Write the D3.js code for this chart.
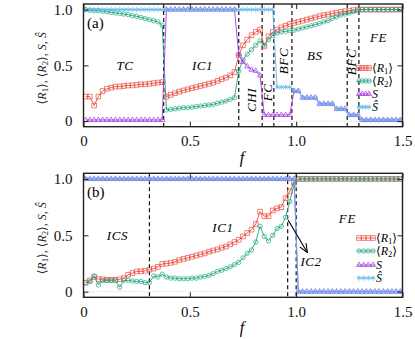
<!DOCTYPE html>
<html>
<head>
<meta charset="utf-8">
<script src="https://cdn.jsdelivr.net/npm/d3@7"></script>
<style>
body { margin: 0; background: #fff; }
text { font-family: "Liberation Serif", "DejaVu Serif", serif; }
</style>
</head>
<body>
<div id="chart"></div>
<script>
// f values (shared by both panels)
const fVals = [0.01,0.03,0.05,0.07,0.09,0.11,0.13,0.15,0.17,0.19,0.21,0.23,0.25,0.27,0.29,0.31,0.33,0.35,0.37,0.39,
  0.41,0.43,0.45,0.47,0.49,0.51,0.53,0.55,0.57,0.59,0.61,0.63,0.65,0.67,0.69,0.71,0.73,0.75,0.77,0.79,
  0.81,0.83,0.85,0.87,0.89,0.91,0.93,0.95,0.97,0.99,1.01,1.03,1.05,1.07,1.09,1.11,1.13,1.15,1.17,1.19,
  1.21,1.23,1.25,1.27,1.29,1.31,1.33,1.35,1.37,1.39,1.41,1.43,1.45,1.47,1.49];

// panel (a)
const r1A = [0.22,0.22,0.14,0.22,0.27,0.29,0.30,0.31,0.31,0.315,0.32,0.32,0.325,0.33,0.33,0.335,0.34,0.345,0.35,
  0.22,0.235,0.25,0.265,0.275,0.285,0.295,0.305,0.315,0.325,0.335,0.345,0.36,0.375,0.39,0.41,0.44,
  0.59,0.68,0.73,0.77,0.80,0.82,
  0.67,0.76,0.80,
  0.82,0.84,0.855,0.87,
  0.88,0.89,0.90,0.91,0.92,0.93,0.94,0.95,0.955,0.965,0.97,0.98,0.985,0.99,0.995,1.0,
  1.0,1.0,1.0,1.0,1.0,1.0,1.0,1.0,1.0,1.0];
const r2A = [1.0,0.995,0.99,0.99,0.985,0.98,0.975,0.97,0.965,0.96,0.955,0.945,0.94,0.93,0.92,0.91,0.90,0.89,0.86,
  0.10,0.105,0.11,0.115,0.12,0.12,0.125,0.13,0.135,0.14,0.145,0.15,0.16,0.17,0.18,0.195,0.21,
  0.45,0.55,0.60,0.64,0.68,0.72,
  0.68,0.73,0.77,
  0.79,0.80,0.805,0.81,
  0.815,0.825,0.835,0.845,0.855,0.865,0.875,0.89,0.90,0.92,0.935,0.95,0.96,0.97,0.98,0.99,
  1.0,1.0,1.0,1.0,1.0,1.0,1.0,1.0,1.0,1.0];
const sA = [0.01,0.01,0.01,0.01,0.01,0.01,0.01,0.01,0.01,0.01,0.01,0.01,0.01,0.01,0.01,0.01,0.01,0.01,0.01,
  1,1,1,1,1,1,1,1,1,1,1,1,1,1,1,1,1,
  0.6,0.53,0.49,0.46,0.45,0.41,
  0.055,0.055,0.055,0.055,0.055,0.055,0.055,
  0.27,0.27,0.21,0.21,0.21,0.21,0.155,0.155,0.155,0.155,0.11,0.11,0.11,0.055,0.055,0.055,
  0.01,0.01,0.01,0.01,0.01,0.01,0.01,0.01,0.01,0.01];
const shA = [1,1,1,1,1,1,1,1,1,1,1,1,1,1,1,1,1,1,1,1,1,1,1,1,1,1,1,1,1,1,
  1,1,1,1,1,1,1,1,1,1,1,1,1,1,1,
  0.305,0.305,0.305,0.305,
  0.27,0.27,0.21,0.21,0.21,0.21,0.155,0.155,0.155,0.155,0.11,0.11,0.11,0.055,0.055,0.055,
  0.01,0.01,0.01,0.01,0.01,0.01,0.01,0.01,0.01,0.01];
const dashesA = [0.377, 0.73, 0.84, 0.895, 0.98, 1.24, 1.295];

// panel (b)
const r1B = [0.08,0.10,0.13,0.11,0.11,0.105,0.105,0.105,0.11,0.12,0.15,0.165,0.18,0.18,0.185,0.195,0.205,0.22,0.245,0.25,
  0.255,0.265,0.28,0.29,0.30,0.31,0.32,0.33,0.34,0.355,0.365,0.375,0.39,0.40,0.42,0.44,0.46,0.49,0.52,0.55,
  0.60,0.71,0.67,0.67,0.72,0.74,0.75,0.83,0.89,0.97,
  1,1,1,1,1,1,1,1,1,1,1,1,1,1,1,1,1,1,1,1,1,1,1,1,1];
const r2B = [0.08,0.09,0.14,0.06,0.10,0.10,0.10,0.10,0.04,0.10,0.10,0.095,0.09,0.09,0.08,0.08,0.14,0.13,0.155,0.13,
  0.12,0.12,0.115,0.115,0.115,0.12,0.12,0.13,0.135,0.145,0.16,0.18,0.19,0.205,0.22,0.24,0.26,0.30,0.34,0.37,
  0.44,0.58,0.49,0.45,0.50,0.56,0.58,0.66,0.80,0.95,
  1,1,1,1,1,1,1,1,1,1,1,1,1,1,1,1,1,1,1,1,1,1,1,1,1];
const sB = [1,1,1,1,1,1,1,1,1,1,1,1,1,1,1,1,1,1,1,1,1,1,1,1,1,1,1,1,1,1,1,1,1,1,1,1,1,1,1,1,1,1,1,1,1,1,1,1,1,1,
  0,0,0,0,0,0,0,0,0,0,0,0,0,0,0,0,0,0,0,0,0,0,0,0,0];
const shB = [1,1,1,1,1,1,1,1,1,1,1,1,1,1,1,1,1,1,1,1,1,1,1,1,1,1,1,1,1,1,1,1,1,1,1,1,1,1,1,1,1,1,1,1,1,1,1,1,1,1,
  0,0,0,0,0,0,0,0,0,0,0,0,0,0,0,0,0,0,0,0,0,0,0,0,0];
const dashesB = [0.31, 0.96, 1.0];

const xTicks = [0, 0.5, 1, 1.5];
const yTicks = [0, 0.5, 1];

// init canvas
var width = 415, height = 339;
var svg = d3.select("#chart").append("svg")
    .attr("width", width)
    .attr("height", height);

svg.append("defs").append("marker")
    .attr("id", "arrow")
    .attr("viewBox", "0 0 10 10")
    .attr("refX", 9).attr("refY", 5)
    .attr("markerWidth", 9).attr("markerHeight", 9)
    .attr("markerUnits", "userSpaceOnUse")
    .attr("orient", "auto")
  .append("path")
    .attr("d", "M0,1 L10,5 L0,9")
    .attr("fill", "none")
    .attr("stroke", "#000")
    .attr("stroke-width", 1.2);

var x = d3.scaleLinear().domain([0, 1.5]).range([83.5, 402.5]);

var series = [
  {key: "r1", color: "#ea4a3e", sym: d3.symbolSquare, size: 22, sub: "1"},
  {key: "r2", color: "#1ea57f", sym: d3.symbolCircle, size: 15, sub: "2"},
  {key: "s",  color: "#a43ae2", sym: d3.symbolTriangle, size: 12},
  {key: "sh", color: "#5cb8ea", sym: d3.symbolAsterisk, size: 20}
];

// writes <R_n> with italic R and subscript
function angleR(t, n) {
  t.append("tspan").text("\u27E8");
  t.append("tspan").attr("font-style", "italic").text("R");
  t.append("tspan").attr("font-size", "0.72em").attr("dy", "0.28em").text(n);
  t.append("tspan").attr("dy", "-0.2em").text("\u27E9");
}

function drawPanel(p) {
  var y = d3.scaleLinear().domain([-0.05, 1.05]).range([p.bottom, p.top]);
  var g = svg.append("g");

  // zero line
  g.append("line")
    .attr("x1", x(0)).attr("x2", x(1.5))
    .attr("y1", y(0)).attr("y2", y(0))
    .attr("stroke", "#bbb").attr("stroke-width", 0.8)
    .attr("stroke-dasharray", "1,2");

  // vertical phase boundaries
  g.selectAll(".dash").data(p.dashes).join("line")
    .attr("x1", d => x(d)).attr("x2", d => x(d))
    .attr("y1", p.top).attr("y2", p.bottom)
    .attr("stroke", "#111").attr("stroke-width", 1.2)
    .attr("stroke-dasharray", "4,3");

  series.forEach(function(s) {
    var vals = p.data[s.key];
    var pts = fVals.map((f, i) => [f, vals[i]]);
    g.append("path")
      .attr("d", d3.line().x(d => x(d[0])).y(d => y(d[1]))(pts))
      .attr("fill", "none")
      .attr("stroke", s.color)
      .attr("stroke-width", 0.9);
    g.append("g").selectAll("path").data(pts).join("path")
      .attr("transform", d => "translate(" + x(d[0]) + "," + y(d[1]) + ")")
      .attr("d", d3.symbol(s.sym, s.size))
      .attr("fill", "none")
      .attr("stroke", s.color)
      .attr("stroke-width", 0.7);
  });

  // axes (ticks inside, mirrored)
  var fmt = d => d === 0 ? "0" : d3.format(".1f")(d);
  var ax = g.append("g").attr("transform", "translate(0," + p.bottom + ")")
    .call(d3.axisBottom(x).tickValues(xTicks).tickSize(-5).tickPadding(9).tickFormat(fmt));
  var axT = g.append("g").attr("transform", "translate(0," + p.top + ")")
    .call(d3.axisTop(x).tickValues(xTicks).tickSize(-5).tickFormat(""));
  var ay = g.append("g").attr("transform", "translate(" + x(0) + ",0)")
    .call(d3.axisLeft(y).tickValues(yTicks).tickSize(-5).tickPadding(11).tickFormat(fmt));
  var ayR = g.append("g").attr("transform", "translate(" + x(1.5) + ",0)")
    .call(d3.axisRight(y).tickValues(yTicks).tickSize(-5).tickFormat(""));
  [ax, axT, ay, ayR].forEach(a => {
    a.select(".domain").remove();
    a.selectAll("line").attr("stroke", "#222");
    a.selectAll("text").attr("font-size", 15).attr("fill", "#111")
      .attr("font-family", "Liberation Serif, serif");
  });

  g.append("rect")
    .attr("x", x(0)).attr("y", p.top)
    .attr("width", x(1.5) - x(0)).attr("height", p.bottom - p.top)
    .attr("fill", "none").attr("stroke", "#222").attr("stroke-width", 1.4);

  // x label
  g.append("text")
    .attr("x", 242).attr("y", p.bottom + 36)
    .attr("text-anchor", "middle").attr("font-size", 16).attr("font-style", "italic")
    .text("f");

  // y label
  var yl = g.append("text")
    .attr("transform", "translate(46," + ((p.top + p.bottom) / 2 + 3) + ") rotate(-90)")
    .attr("text-anchor", "middle").attr("font-size", 12).attr("fill", "#222");
  angleR(yl, "1");
  yl.append("tspan").text(", ");
  angleR(yl, "2");
  yl.append("tspan").text(", ");
  yl.append("tspan").attr("font-style", "italic").text("S");
  yl.append("tspan").text(", ");
  yl.append("tspan").attr("font-style", "italic").text("\u015C");

  // panel tag
  g.append("text")
    .attr("x", 87).attr("y", p.top + 24)
    .attr("font-family", "Liberation Sans, Arial, sans-serif")
    .attr("font-size", 15)
    .text(p.tag);

  // region labels
  p.labels.forEach(function(l) {
    var t = g.append("text")
      .attr("font-size", 13).attr("font-style", "italic")
      .attr("letter-spacing", 0.6).attr("text-anchor", "middle")
      .text(l.text);
    if (l.rot) {
      t.attr("dy", "0.35em")
       .attr("transform", "translate(" + x(l.f) + "," + y(l.v) + ") rotate(-90)");
    } else {
      t.attr("x", x(l.f)).attr("y", y(l.v));
    }
  });

  if (p.arrow) {
    g.append("line")
      .attr("x1", x(p.arrow[0])).attr("y1", y(p.arrow[1]))
      .attr("x2", x(p.arrow[2])).attr("y2", y(p.arrow[3]))
      .attr("stroke", "#000").attr("stroke-width", 1.1)
      .attr("marker-end", "url(#arrow)");
  }

  // legend
  series.forEach(function(s, i) {
    var ky = p.key.y[i];
    var lg = g.append("g");
    lg.append("line")
      .attr("x1", p.key.x1).attr("x2", p.key.x2)
      .attr("y1", ky).attr("y2", ky)
      .attr("stroke", s.color).attr("stroke-width", 0.9);
    var n = 4;
    for (var k = 0; k < n; k++) {
      var px = p.key.x1 + 2 + k * (p.key.x2 - p.key.x1 - 4) / (n - 1);
      lg.append("path")
        .attr("transform", "translate(" + px + "," + ky + ")")
        .attr("d", d3.symbol(s.sym, s.size))
        .attr("fill", "none").attr("stroke", s.color).attr("stroke-width", 0.7);
    }
    var t = lg.append("text")
      .attr("x", p.key.x2 + 1).attr("y", ky + 4)
      .attr("font-size", 12);
    if (s.sub) angleR(t, s.sub);
    else t.append("tspan").attr("font-style", "italic").text(s.key === "s" ? "S" : "\u015C");
  });
}

drawPanel({
  top: 4, bottom: 126.7, tag: "(a)",
  data: {r1: r1A, r2: r2A, s: sA, sh: shA},
  dashes: dashesA,
  labels: [
    {text: "TC", f: 0.195, v: 0.458},
    {text: "IC1", f: 0.56, v: 0.458},
    {text: "BS", f: 1.088, v: 0.548},
    {text: "FE", f: 1.387, v: 0.71},
    {text: "CHI", f: 0.788, v: 0.19, rot: true},
    {text: "FC", f: 0.863, v: 0.257, rot: true},
    {text: "BFC", f: 0.938, v: 0.539, rot: true},
    {text: "BFC", f: 1.262, v: 0.53, rot: true}
  ],
  key: {x1: 357, x2: 371, y: [68, 81, 94, 107]}
});

drawPanel({
  top: 173.3, bottom: 297.3, tag: "(b)",
  data: {r1: r1B, r2: r2B, s: sB, sh: shB},
  dashes: dashesB,
  labels: [
    {text: "ICS", f: 0.16, v: 0.458},
    {text: "IC1", f: 0.656, v: 0.529},
    {text: "FE", f: 1.241, v: 0.609},
    {text: "IC2", f: 1.07, v: 0.228}
  ],
  arrow: [0.962, 0.636, 1.051, 0.352],
  key: {x1: 357, x2: 375, y: [238, 251, 265, 278]}
});
</script>
</body>
</html>
